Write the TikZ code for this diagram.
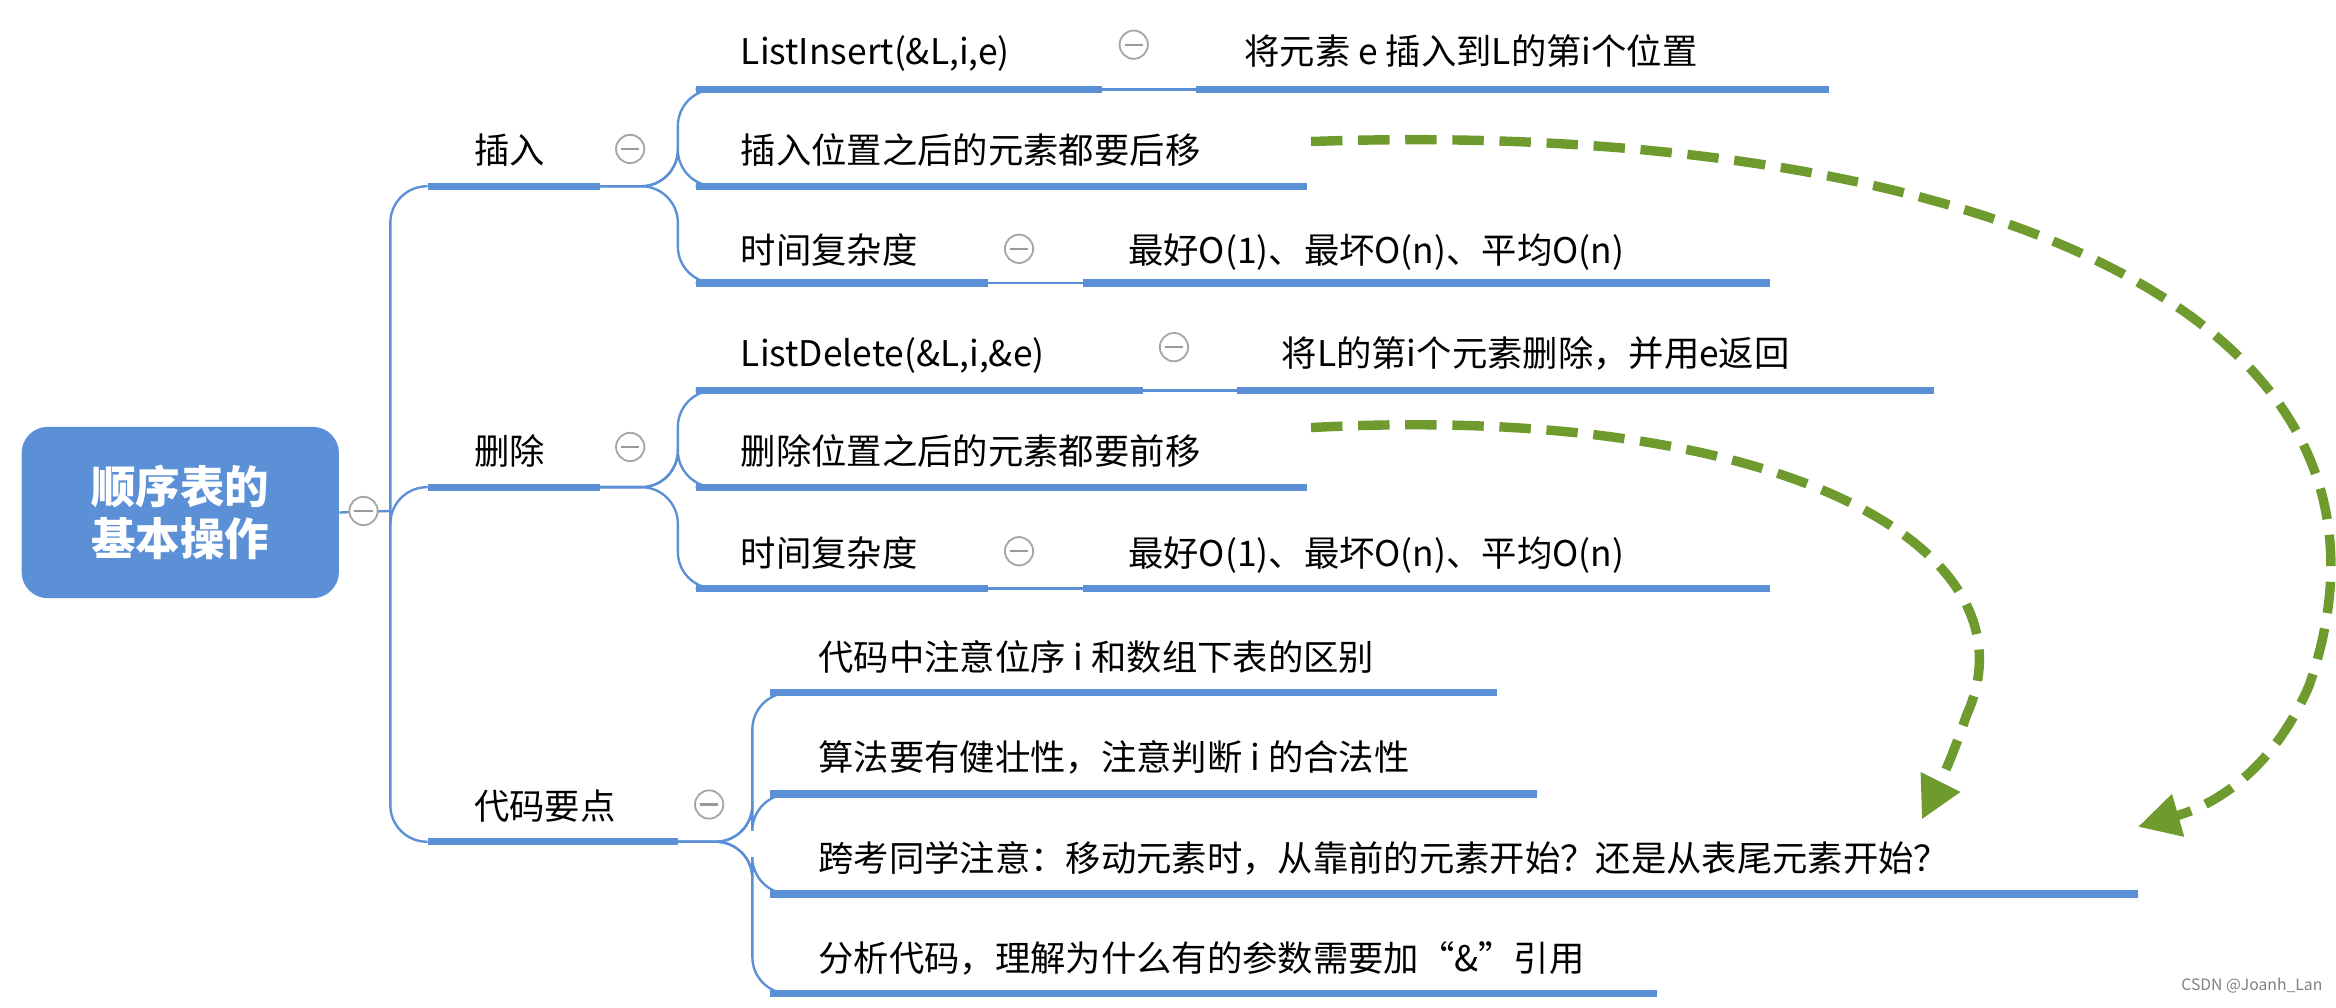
\documentclass[tikz,border=0pt]{standalone}
\usepackage{fontspec}
\setmainfont{Noto Sans CJK SC}
\usetikzlibrary{arrows.meta}
\definecolor{bl}{HTML}{5B8FD6}
\definecolor{gr}{HTML}{6F9B2E}
\begin{document}
\begin{tikzpicture}[x=0.02cm,y=-0.02cm,
  t/.style={anchor=base west,inner sep=0pt,font=\fontsize{13.5}{15}\selectfont},
  ul/.style={bl,line width=2.8pt},
  cn/.style={bl,line width=0.9pt,rounded corners=14pt},
  mn/.style={circle,draw=gray!70,line width=0.7pt,fill=white,minimum size=19*0.02cm,inner sep=0pt,
    path picture={\draw[gray!80,line width=0.8pt]([xshift=-3.5pt]path picture bounding box.center)--([xshift=3.5pt]path picture bounding box.center);}},
  ga/.style={gr,line width=3.6pt,dash pattern=on 12pt off 6pt,-{Triangle[length=16pt,width=16pt]}}]
\useasboundingbox (0,0) rectangle (1568,676);
\node[fill=bl,rounded corners=10pt,minimum width=213*0.02cm,minimum height=115*0.02cm,text=white,align=center,font=\fontsize{17}{20}\selectfont\bfseries] (root) at (121,344) {顺序表的\\基本操作};
% level 1
\coordinate (J) at (262,343);
\foreach \n/\y/\e in {a/125/403,b/327/403,c/565/455}{
  \coordinate (\n0) at (287,\y); \coordinate (\n1) at (\e,\y);
  \draw[ul] (\n0)--(\n1);
  \draw[cn] (J) |- (\n0);}
\draw[cn] (root.east)--(J);
\node[mn] (m0) at (244,343) {};
\node[t] (ta) at (318,110) {插入};
\node[t] (tb) at (318,312) {删除};
\node[t] (tc) at (318,550) {代码要点};
% level 2
\foreach \n/\s/\y/\e in {a1/467/60/740,a2/467/125/877,a3/467/190/663,
  b1/467/262/767,b2/467/327/877,b3/467/395/663,
  c1/517/465/1005,c2/517/533/1032,c3/517/600/1435,c4/517/667/1112}{
  \coordinate (\n0) at (\s,\y); \coordinate (\n1) at (\e,\y);
  \draw[ul] (\n0)--(\n1);}
\foreach \n in {a1,a2,a3}{\draw[cn] (a1) -- (455,125) |- (\n0);}
\foreach \n in {b1,b2,b3}{\draw[cn] (b1) -- (455,327) |- (\n0);}
\foreach \n in {c1,c2,c3,c4}{\draw[cn] (c1) -- (505,565) |- (\n0);}
\node[mn] (ma) at (423,100) {};
\node[mn] (mb) at (423,300) {};
\node[mn] (mc) at (476,540) {};
\node[t] at (497,43) {ListInsert(\&L,i,e)};
\node[t] at (497,110) {插入位置之后的元素都要后移};
\node[t] at (497,177) {时间复杂度};
\node[t] at (497,246) {ListDelete(\&L,i,\&e)};
\node[t] at (497,312) {删除位置之后的元素都要前移};
\node[t] at (497,380) {时间复杂度};
\node[t] at (549,450) {代码中注意位序 i 和数组下表的区别};
\node[t] at (549,517) {算法要有健壮性，注意判断 i 的合法性};
\node[t] at (549,585) {跨考同学注意：移动元素时，从靠前的元素开始？还是从表尾元素开始？};
\node[t] at (549,652) {分析代码，理解为什么有的参数需要加“\&”引用};
% level 3
\node[mn] at (761,30) {};
\node[mn] at (684,167) {};
\node[mn] at (788,233) {};
\node[mn] at (684,370) {};
\foreach \n/\s/\y/\e in {d1/803/60/1228,d2/727/190/1188,d3/830/262/1298,d4/727/395/1188}{
  \coordinate (\n0) at (\s,\y); \coordinate (\n1) at (\e,\y); \draw[ul] (\n0)--(\n1);}
\draw[bl,line width=0.9pt] (a11)--(d10); \draw[bl,line width=0.9pt] (a31)--(d20);
\draw[bl,line width=0.9pt] (b11)--(d30); \draw[bl,line width=0.9pt] (b31)--(d40);
\node[t] at (835,43) {将元素 e 插入到L的第i个位置};
\node[t] at (757,177) {最好O(1)、最坏O(n)、平均O(n)};
\node[t] at (860,246) {将L的第i个元素删除，并用e返回};
\node[t] at (757,380) {最好O(1)、最坏O(n)、平均O(n)};
% green arrows
\coordinate (g1) at (880,95); \coordinate (g1e) at (1435,555);
\coordinate (g2) at (880,287); \coordinate (g2e) at (1290,550);
\draw[ga] (g1) .. controls (1300,80) and (1640,200) .. (1550,460) .. controls (1520,530) and (1470,545) .. (g1e);
\draw[ga] (g2) .. controls (1200,270) and (1370,370) .. (1320,480) .. controls (1310,510) and (1300,530) .. (g2e);
\node[anchor=south east,font=\fontsize{6}{7}\selectfont,text=gray] at (1565,673) {CSDN @Joanh\_Lan};
\end{tikzpicture}
\end{document}
